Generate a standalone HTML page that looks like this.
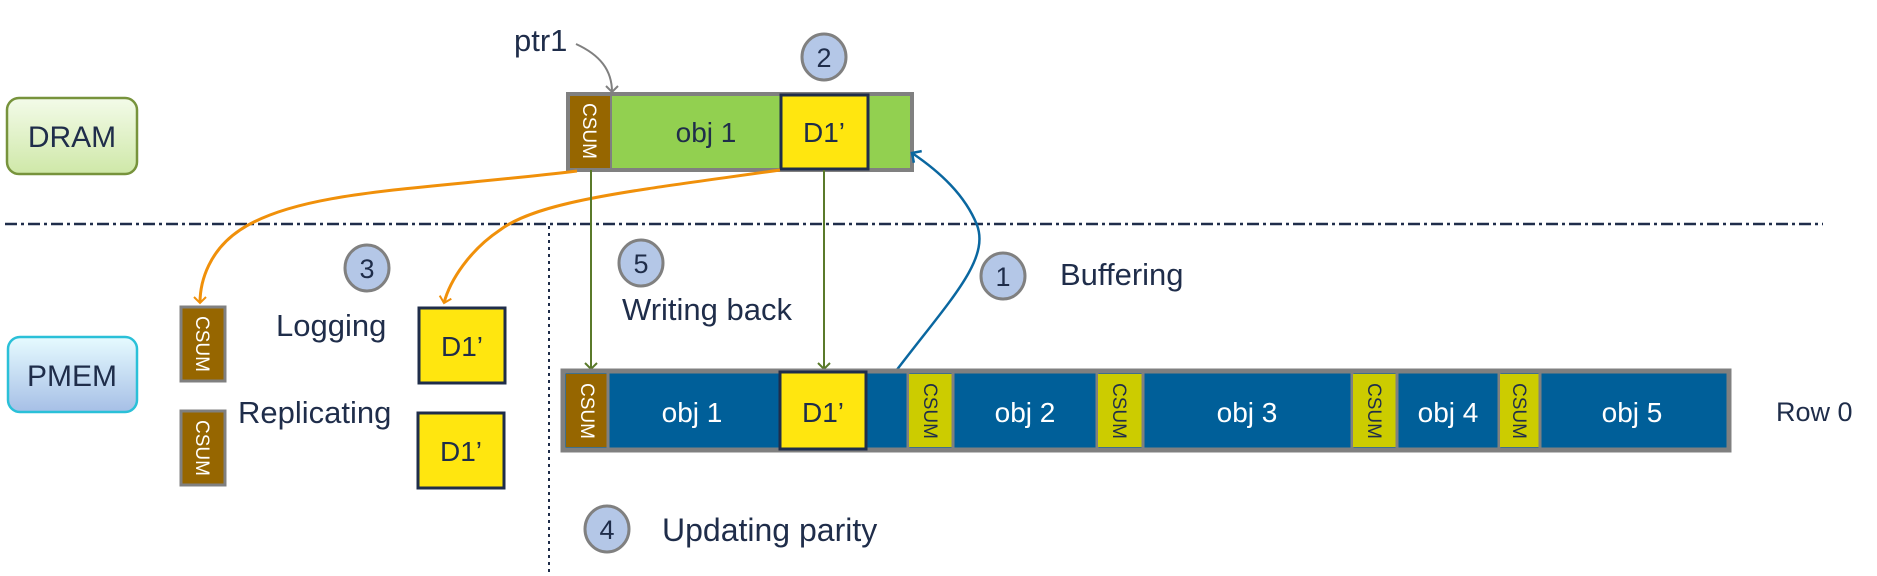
<!DOCTYPE html>
<html><head><meta charset="utf-8"><style>
html,body{margin:0;padding:0;background:#fff;}
svg{display:block;font-family:"Liberation Sans",sans-serif;}
</style></head><body>
<svg width="1877" height="576" viewBox="0 0 1877 576">
<defs>
<linearGradient id="gG" x1="0" y1="0" x2="0" y2="1"><stop offset="0" stop-color="#f3fbe9"/><stop offset="1" stop-color="#cfe8a8"/></linearGradient>
<linearGradient id="gB" x1="0" y1="0" x2="0" y2="1"><stop offset="0" stop-color="#e6fbff"/><stop offset="1" stop-color="#a6bfe6"/></linearGradient>
<marker id="aO" markerWidth="14" markerHeight="14" refX="7" refY="7" orient="auto" markerUnits="userSpaceOnUse"><path d="M1,1 L7,7 L1,13" fill="none" stroke="#f0900a" stroke-width="2"/></marker>
<marker id="aG" markerWidth="14" markerHeight="14" refX="7" refY="7" orient="auto" markerUnits="userSpaceOnUse"><path d="M1,1 L7,7 L1,13" fill="none" stroke="#5a7a2a" stroke-width="2"/></marker>
<marker id="aB" markerWidth="16" markerHeight="16" refX="8" refY="8" orient="auto" markerUnits="userSpaceOnUse"><path d="M1,1 L8,8 L1,15" fill="none" stroke="#0a67a0" stroke-width="2.5"/></marker>
<marker id="aK" markerWidth="14" markerHeight="14" refX="7" refY="7" orient="auto" markerUnits="userSpaceOnUse"><path d="M1,1 L7,7 L1,13" fill="none" stroke="#808080" stroke-width="2"/></marker>
</defs>

<g>
<rect x="7" y="98" width="130" height="76" rx="12" fill="url(#gG)" stroke="#77933c" stroke-width="2.5"/>
<text x="72" y="147" font-size="30" fill="#1f2d4a" text-anchor="middle">DRAM</text></g>
<g>
<rect x="8" y="337" width="129" height="75" rx="12" fill="url(#gB)" stroke="#2ac0d8" stroke-width="2.5"/>
<text x="72" y="386" font-size="30" fill="#1f2d4a" text-anchor="middle">PMEM</text></g>

<line x1="5" y1="224" x2="1823" y2="224" stroke="#1f2d4a" stroke-width="2.5" stroke-dasharray="12,4,3,4"/>
<line x1="549" y1="226" x2="549" y2="576" stroke="#1f2d4a" stroke-width="2" stroke-dasharray="3,4"/>

<text x="514" y="51" font-size="31" fill="#1f2d4a">ptr1</text>
<path d="M576,44 C600,55 612,70 612,92" fill="none" stroke="#808080" stroke-width="2" marker-end="url(#aK)"/>

<g>
<rect x="568" y="94" width="344" height="76" fill="#92d050" stroke="#808080" stroke-width="4"/>
<rect x="570" y="96" width="41" height="72" fill="#966600"/>
<text x="0" y="0" font-size="19" fill="#fff" transform="translate(583,131) rotate(90)" text-anchor="middle">CSUM</text>
<line x1="611" y1="96" x2="611" y2="168" stroke="#808080" stroke-width="2"/>
<text x="706" y="142" font-size="28" fill="#1f2d4a" text-anchor="middle">obj 1</text>
<rect x="781" y="95" width="87" height="74" fill="#ffe60f" stroke="#1f2d4a" stroke-width="3"/>
<text x="824" y="142" font-size="28" fill="#1f2d4a" text-anchor="middle">D1’</text>
</g>

<g><ellipse cx="824" cy="57" rx="22" ry="23" fill="#b4c7e7" stroke="#808080" stroke-width="3"/><text x="824" y="67" font-size="27" fill="#1f2d4a" text-anchor="middle">2</text></g>

<path d="M577,171 C420,190 300,190 240,230 C210,250 200,280 200,303" fill="none" stroke="#f0900a" stroke-width="3" marker-end="url(#aO)"/>
<path d="M780,170 C640,190 540,200 500,230 C470,250 450,280 444,303" fill="none" stroke="#f0900a" stroke-width="3" marker-end="url(#aO)"/>
<line x1="591" y1="170" x2="591" y2="369" stroke="#5a7a2a" stroke-width="2" marker-end="url(#aG)"/>
<line x1="824" y1="170" x2="824" y2="369" stroke="#5a7a2a" stroke-width="2" marker-end="url(#aG)"/>
<path d="M896,371 C950,300 990,260 977,225 C965,195 940,172 912,153" fill="none" stroke="#0a67a0" stroke-width="2.5" marker-end="url(#aB)"/>

<g><ellipse cx="367" cy="268" rx="22" ry="23" fill="#b4c7e7" stroke="#808080" stroke-width="3"/><text x="367" y="278" font-size="27" fill="#1f2d4a" text-anchor="middle">3</text></g>
<g><ellipse cx="641" cy="263" rx="22" ry="23" fill="#b4c7e7" stroke="#808080" stroke-width="3"/><text x="641" y="273" font-size="27" fill="#1f2d4a" text-anchor="middle">5</text></g>
<g><ellipse cx="1003" cy="276" rx="22" ry="23" fill="#b4c7e7" stroke="#808080" stroke-width="3"/><text x="1003" y="286" font-size="27" fill="#1f2d4a" text-anchor="middle">1</text></g>
<g><ellipse cx="607" cy="529" rx="22" ry="23" fill="#b4c7e7" stroke="#808080" stroke-width="3"/><text x="607" y="539" font-size="27" fill="#1f2d4a" text-anchor="middle">4</text></g>

<text x="276" y="336" font-size="31" fill="#1f2d4a">Logging</text>
<text x="238" y="423" font-size="31" fill="#1f2d4a">Replicating</text>
<text x="622" y="320" font-size="31" fill="#1f2d4a">Writing back</text>
<text x="1060" y="285" font-size="31" fill="#1f2d4a">Buffering</text>
<text x="662" y="541" font-size="32" fill="#1f2d4a">Updating parity</text>
<text x="1776" y="421" font-size="27" fill="#1f2d4a">Row 0</text>

<g><rect x="181" y="307" width="44" height="74" fill="#966600" stroke="#808080" stroke-width="3"/><text font-size="19" fill="#fff" text-anchor="middle" transform="translate(196,344) rotate(90)">CSUM</text></g>
<g><rect x="181" y="411" width="44" height="74" fill="#966600" stroke="#808080" stroke-width="3"/><text font-size="19" fill="#fff" text-anchor="middle" transform="translate(196,448) rotate(90)">CSUM</text></g>
<g><rect x="419" y="308" width="86" height="75" fill="#ffe60f" stroke="#1f2d4a" stroke-width="3"/><text x="462" y="356" font-size="28" fill="#1f2d4a" text-anchor="middle">D1’</text></g>
<g><rect x="418" y="413" width="86" height="75" fill="#ffe60f" stroke="#1f2d4a" stroke-width="3"/><text x="461" y="461" font-size="28" fill="#1f2d4a" text-anchor="middle">D1’</text></g>

<g>
<rect x="563" y="371" width="1166" height="79" fill="#005f99" stroke="#808080" stroke-width="5"/>
<rect x="566" y="374" width="42" height="73" fill="#966600"/>
<text font-size="19" fill="#fff" text-anchor="middle" transform="translate(581,411) rotate(90)">CSUM</text>
<line x1="608" y1="373" x2="608" y2="448" stroke="#808080" stroke-width="3"/>
<text x="692" y="422" font-size="28" fill="#fff" text-anchor="middle">obj 1</text>
<rect x="780" y="372" width="86" height="77" fill="#ffe60f" stroke="#1f2d4a" stroke-width="3"/>
<text x="823" y="422" font-size="28" fill="#1f2d4a" text-anchor="middle">D1’</text>
<line x1="908" y1="373" x2="908" y2="448" stroke="#808080" stroke-width="3"/>
<rect x="909" y="374" width="43" height="73" fill="#cccc00"/><line x1="953" y1="373" x2="953" y2="448" stroke="#808080" stroke-width="3"/>
<text font-size="19" fill="#1f2d4a" text-anchor="middle" transform="translate(924,411) rotate(90)">CSUM</text>
<text x="1025" y="422" font-size="28" fill="#fff" text-anchor="middle">obj 2</text>
<line x1="1097" y1="373" x2="1097" y2="448" stroke="#808080" stroke-width="3"/>
<rect x="1098" y="374" width="44" height="73" fill="#cccc00"/><line x1="1143" y1="373" x2="1143" y2="448" stroke="#808080" stroke-width="3"/>
<text font-size="19" fill="#1f2d4a" text-anchor="middle" transform="translate(1113,411) rotate(90)">CSUM</text>
<text x="1247" y="422" font-size="28" fill="#fff" text-anchor="middle">obj 3</text>
<line x1="1352" y1="373" x2="1352" y2="448" stroke="#808080" stroke-width="3"/>
<rect x="1353" y="374" width="43" height="73" fill="#cccc00"/><line x1="1397" y1="373" x2="1397" y2="448" stroke="#808080" stroke-width="3"/>
<text font-size="19" fill="#1f2d4a" text-anchor="middle" transform="translate(1368,411) rotate(90)">CSUM</text>
<text x="1448" y="422" font-size="28" fill="#fff" text-anchor="middle">obj 4</text>
<line x1="1499" y1="373" x2="1499" y2="448" stroke="#808080" stroke-width="3"/>
<rect x="1500" y="374" width="39" height="73" fill="#cccc00"/><line x1="1540" y1="373" x2="1540" y2="448" stroke="#808080" stroke-width="3"/>
<text font-size="19" fill="#1f2d4a" text-anchor="middle" transform="translate(1513,411) rotate(90)">CSUM</text>
<text x="1632" y="422" font-size="28" fill="#fff" text-anchor="middle">obj 5</text>
</g>
</svg>
</body></html>
